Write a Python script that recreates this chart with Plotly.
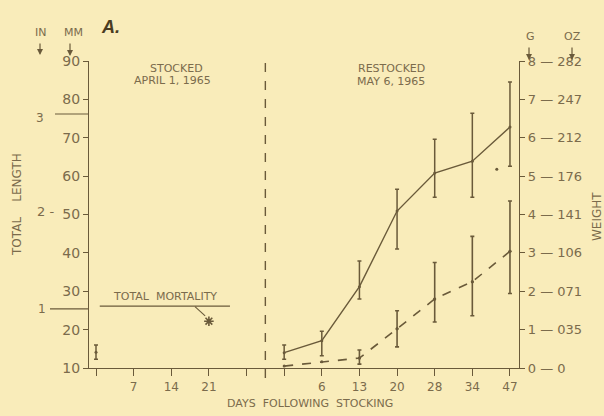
import plotly.graph_objects as go

# ---------------- data ----------------
tick_positions = [0, 1, 2, 3, 4, 5, 6, 7, 8, 9, 10, 11]
tick_labels = ["", "7", "14", "21", "", "", "6", "13", "20", "28", "34", "47"]

# first stocking (April 1, 1965)
stock_pos = [0]
stock_len = [14.1]
stock_len_hi = [16.0]
stock_len_lo = [12.3]
mortality_pos = [3]
mortality_len = [22.2]

# restocking (May 6, 1965)
restock_pos = [5, 6, 7, 8, 9, 10, 11]
length_mm = [14.0, 17.1, 31.2, 50.9, 60.8, 63.9, 72.8]
length_hi = [16.0, 19.6, 37.9, 56.6, 69.6, 76.4, 84.5]
length_lo = [12.3, 13.2, 28.0, 41.0, 54.5, 54.5, 62.6]

weight_g = [0.05, 0.16, 0.26, 1.02, 1.80, 2.25, 3.04]
weight_err_pos = [7, 8, 9, 10, 11]
weight_err_val = [0.26, 1.02, 1.80, 2.25, 3.04]
weight_hi = [0.47, 1.49, 2.75, 3.43, 4.35]
weight_lo = [0.10, 0.55, 1.20, 1.36, 1.94]

stray_dot_pos = [10.65]
stray_dot_len = [61.8]

len_ticks = [10, 20, 30, 40, 50, 60, 70, 80, 90]
wt_ticks = [0, 1, 2, 3, 4, 5, 6, 7, 8]
wt_tick_labels = ["0 — 0", "1 — 035", "2 — 071", "3 — 106", "4 — 141",
                  "5 — 176", "6 — 212", "7 — 247", "8 — 282"]
inch_vals_mm = [76.2, 50.8, 25.4]
inch_labels = ["3", "2 -", "1"]

# ---------------- style ----------------
BG = "#f9ecba"
INK = "#6a5a3a"
TXT = "#7b6b4c"
FONT = "DejaVu Sans"

fig = go.Figure()

# stocked point
fig.add_trace(go.Scatter(
    x=stock_pos, y=stock_len, mode="markers",
    marker=dict(size=3, color=INK),
    error_y=dict(type="data", symmetric=False,
                 array=[h - v for h, v in zip(stock_len_hi, stock_len)],
                 arrayminus=[v - l for v, l in zip(stock_len, stock_len_lo)],
                 color=INK, thickness=1.5, width=2),
    showlegend=False))

# mortality asterisk
fig.add_trace(go.Scatter(
    x=mortality_pos, y=mortality_len, mode="markers",
    marker=dict(symbol="asterisk-open", size=8, color=INK, line=dict(color=INK, width=1.6)),
    showlegend=False))

# length line (solid)
fig.add_trace(go.Scatter(
    x=restock_pos, y=length_mm, mode="lines+markers",
    line=dict(color=INK, width=1.4),
    marker=dict(size=3, color=INK),
    error_y=dict(type="data", symmetric=False,
                 array=[h - v for h, v in zip(length_hi, length_mm)],
                 arrayminus=[v - l for v, l in zip(length_mm, length_lo)],
                 color=INK, thickness=1.5, width=2),
    showlegend=False))

# weight line (dashed) on right axis
fig.add_trace(go.Scatter(
    x=restock_pos, y=weight_g, mode="lines+markers", yaxis="y2",
    line=dict(color=INK, width=1.6, dash="dash"),
    marker=dict(size=3, color=INK),
    showlegend=False))
fig.add_trace(go.Scatter(
    x=weight_err_pos, y=weight_err_val, mode="markers", yaxis="y2",
    marker=dict(size=3, color=INK),
    error_y=dict(type="data", symmetric=False,
                 array=[h - v for h, v in zip(weight_hi, weight_err_val)],
                 arrayminus=[v - l for v, l in zip(weight_err_val, weight_lo)],
                 color=INK, thickness=1.6, width=2),
    showlegend=False))

fig.add_trace(go.Scatter(
    x=stray_dot_pos, y=stray_dot_len, mode="markers",
    marker=dict(size=3, color=INK), showlegend=False))

# ---------------- layout ----------------
L, R, T, B = 89, 85, 61, 48
W, H = 604, 416
pw, ph = W - L - R, H - T - B

def px(x):
    return (x - L) / pw

def py(y):
    return (H - B - y) / ph

fig.update_layout(
    width=W, height=H,
    margin=dict(l=L, r=R, t=T, b=B, pad=0),
    paper_bgcolor=BG, plot_bgcolor=BG,
    font=dict(family=FONT, color=TXT, size=12),
    xaxis=dict(range=[-0.186, 11.24], tickvals=tick_positions, ticktext=tick_labels,
               showgrid=False, zeroline=False, showline=True, linecolor=INK, linewidth=1.3,
               ticks="outside", ticklen=7, tickwidth=1.3, tickcolor=INK,
               tickfont=dict(size=12, color=TXT)),
    yaxis=dict(range=[10, 90], tickvals=len_ticks,
               showgrid=False, zeroline=False, showline=True, linecolor=INK, linewidth=1.3,
               ticks="outside", ticklen=5, tickwidth=1.3, tickcolor=INK,
               tickfont=dict(size=14, color=TXT)),
    yaxis2=dict(range=[0, 8], overlaying="y", side="right", tickvals=wt_ticks,
                ticktext=wt_tick_labels,
                showgrid=False, zeroline=False, showline=True, linecolor=INK, linewidth=1.3,
                ticks="outside", ticklen=5, tickwidth=1.3, tickcolor=INK,
                tickfont=dict(size=13, color=TXT)),
)

shapes = []
# dashed separator
shapes.append(dict(type="line", xref="x", yref="paper", x0=4.5, x1=4.5,
                   y0=py(378), y1=py(60), line=dict(color=INK, width=1.4, dash="dash")))
# total mortality underline and leader
shapes.append(dict(type="line", xref="x", yref="y", x0=0.1, x1=3.56, y0=26.1, y1=26.1,
                   line=dict(color=INK, width=1.3)))
shapes.append(dict(type="line", xref="x", yref="y", x0=2.63, x1=2.9, y0=26.0, y1=23.6,
                   line=dict(color=INK, width=1.1)))
# inch reference lines
shapes.append(dict(type="line", xref="paper", yref="y", x0=px(55), x1=0, y0=inch_vals_mm[0],
                   y1=inch_vals_mm[0], line=dict(color=INK, width=1.1)))
shapes.append(dict(type="line", xref="paper", yref="y", x0=px(50), x1=0, y0=inch_vals_mm[2],
                   y1=inch_vals_mm[2], line=dict(color=INK, width=1.1)))

annotations = []
def txt(x, y, s, size=12, **kw):
    d = dict(xref="paper", yref="paper", x=px(x), y=py(y), text=s, showarrow=False,
             xanchor="center", yanchor="middle",
             font=dict(family=FONT, size=size, color=TXT))
    d.update(kw)
    annotations.append(d)

txt(42, 309, inch_labels[2], size=12)
txt(40, 118, inch_labels[0], size=12)
txt(56, 211, inch_labels[1], size=13, xanchor="right")
txt(40, 33, "IN", size=11)
txt(73, 33, "MM", size=11)
txt(530, 37, "G", size=11)
txt(572, 37, "OZ", size=11)
txt(110, 27, "<b><i>A.</i></b>", size=18, font=dict(family="Liberation Sans", size=18, color="#4a3c22"))
txt(176, 68, "STOCKED", size=11)
txt(172, 80, "APRIL 1, 1965", size=11)
txt(391, 68, "RESTOCKED", size=11)
txt(391, 81, "MAY 6, 1965", size=11)
txt(310, 403, "DAYS  FOLLOWING  STOCKING", size=11)
txt(17, 205, "TOTAL    LENGTH", size=12, textangle=-90)
txt(597, 217, "WEIGHT", size=12, textangle=-90)
annotations.append(dict(xref="x", yref="y", x=1.83, y=28.6, text="TOTAL  MORTALITY",
                        xanchor="center", yanchor="middle",
                        showarrow=False, font=dict(family=FONT, size=11, color=TXT)))

# down arrows under unit labels
for ax_px, top, head in [(40, 42, 55), (70, 42, 56), (529, 46, 60), (572, 46, 60)]:
    annotations.append(dict(xref="paper", yref="paper", x=px(ax_px), y=py(head),
                            axref="pixel", ayref="pixel", ax=0, ay=-(head - top),
                            text="", showarrow=True, arrowhead=2, arrowsize=1,
                            arrowwidth=1.2, arrowcolor=INK))

fig.update_layout(shapes=shapes, annotations=annotations)

fig.write_html("out.html", post_script="document.body.style.margin='0';",
               config={"displayModeBar": False})
